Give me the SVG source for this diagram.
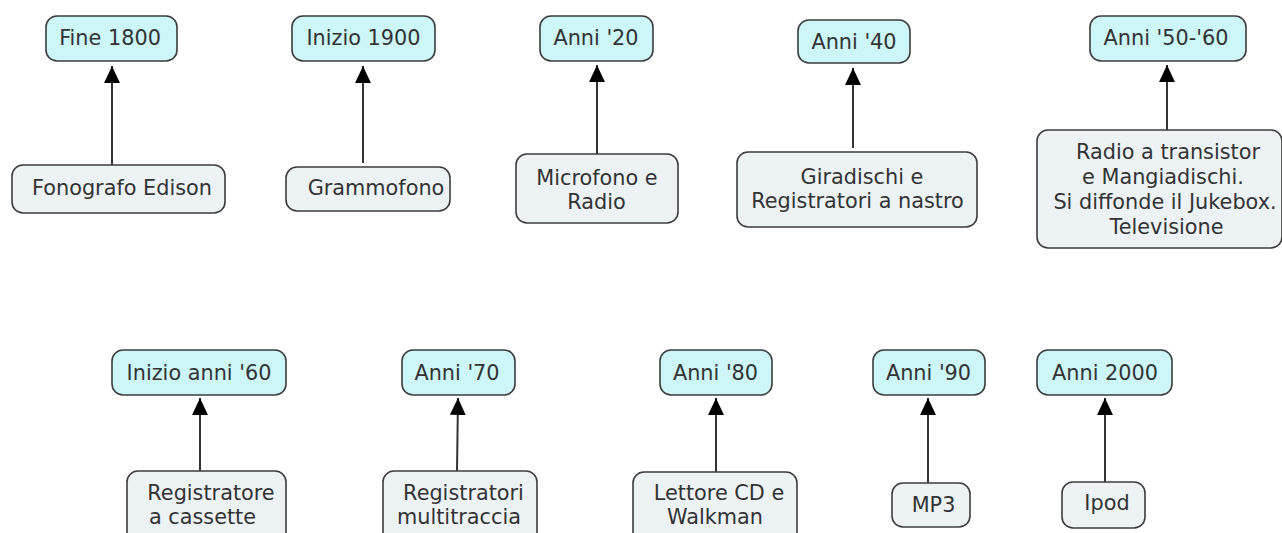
<svg xmlns="http://www.w3.org/2000/svg" width="1282" height="533" viewBox="0 0 1282 533">
<style>
.era rect{fill:#cdf6f8;stroke:#3c3c3c;stroke-width:1.6}
.dev rect{fill:#edf2f5;stroke:#3c3c3c;stroke-width:1.6}
text{font-family:"DejaVu Sans",Verdana,sans-serif;font-size:20.8px;fill:#333;text-anchor:middle}
.conn line{stroke:#333;stroke-width:2;fill:none;marker-end:url(#ah)}
</style>
<defs>
<marker id="ah" markerUnits="userSpaceOnUse" markerWidth="18" markerHeight="16" viewBox="0 0 17 15" refX="16" refY="7.5" orient="auto">
<path d="M16,7.5 L0,0 L0,15 Z" fill="#000"/>
</marker>
</defs>
<rect width="1282" height="533" fill="#fff"/>
<g class="conn">
<line x1="112" y1="165" x2="112" y2="66"/>
<line x1="363" y1="163" x2="363" y2="66"/>
<line x1="597" y1="154" x2="597" y2="65"/>
<line x1="853" y1="148" x2="853" y2="68"/>
<line x1="1167" y1="130" x2="1167" y2="65"/>
<line x1="200" y1="471" x2="200" y2="398"/>
<line x1="457" y1="471" x2="458" y2="398"/>
<line x1="716" y1="472" x2="716" y2="398"/>
<line x1="928" y1="483" x2="928" y2="398"/>
<line x1="1105" y1="482" x2="1105" y2="398"/>
</g>
<g id="n-fine1800" class="era"><rect x="46" y="16" width="131" height="45" rx="11"/><text x="110" y="45">Fine 1800</text></g>
<g id="n-inizio1900" class="era"><rect x="292" y="16" width="143" height="45" rx="11"/><text x="363.5" y="45">Inizio 1900</text></g>
<g id="n-anni20" class="era"><rect x="540" y="16" width="113" height="45" rx="11"/><text x="596" y="45">Anni '20</text></g>
<g id="n-anni40" class="era"><rect x="798" y="20" width="112" height="43" rx="11"/><text x="854" y="49">Anni '40</text></g>
<g id="n-anni5060" class="era"><rect x="1090" y="16" width="156" height="45" rx="11"/><text x="1166" y="45">Anni '50-'60</text></g>
<g id="n-fonografo" class="dev"><rect x="12" y="165" width="213" height="48" rx="11"/><text x="122" y="195">Fonografo Edison</text></g>
<g id="n-grammofono" class="dev"><rect x="286" y="167" width="164" height="44" rx="11"/><text x="376" y="195">Grammofono</text></g>
<g id="n-microfono" class="dev"><rect x="516" y="154" width="162" height="69" rx="11"/><text x="597" y="185">Microfono e</text><text x="596.5" y="209">Radio</text></g>
<g id="n-giradischi" class="dev"><rect x="737" y="152" width="240" height="75" rx="11"/><text x="862" y="184">Giradischi e</text><text x="857.5" y="208">Registratori a nastro</text></g>
<g id="n-radio" class="dev"><rect x="1037" y="130" width="245" height="118" rx="11"/><text x="1168" y="159">Radio a transistor</text><text x="1163" y="184">e Mangiadischi.</text><text x="1165" y="209">Si diffonde il Jukebox.</text><text x="1166.5" y="234">Televisione</text></g>
<g id="n-inizio60" class="era"><rect x="112" y="350" width="174" height="45" rx="11"/><text x="199" y="380">Inizio anni '60</text></g>
<g id="n-anni70" class="era"><rect x="402" y="350" width="113" height="45" rx="11"/><text x="457" y="380">Anni '70</text></g>
<g id="n-anni80" class="era"><rect x="660" y="350" width="112" height="45" rx="11"/><text x="715.5" y="380">Anni '80</text></g>
<g id="n-anni90" class="era"><rect x="873" y="350" width="112" height="45" rx="11"/><text x="928.5" y="380">Anni '90</text></g>
<g id="n-anni2000" class="era"><rect x="1037" y="350" width="135" height="45" rx="11"/><text x="1105" y="380">Anni 2000</text></g>
<g id="n-registratore" class="dev"><rect x="127" y="471" width="159" height="75" rx="11"/><text x="211" y="500">Registratore</text><text x="202.5" y="524">a cassette</text></g>
<g id="n-multitraccia" class="dev"><rect x="383" y="471" width="154" height="75" rx="11"/><text x="463.5" y="500">Registratori</text><text x="459" y="524">multitraccia</text></g>
<g id="n-lettorecd" class="dev"><rect x="633" y="472" width="164" height="75" rx="11"/><text x="719" y="500">Lettore CD e</text><text x="715" y="524">Walkman</text></g>
<g id="n-mp3" class="dev"><rect x="892" y="483" width="78" height="44" rx="11"/><text x="933.5" y="512">MP3</text></g>
<g id="n-ipod" class="dev"><rect x="1062" y="482" width="83" height="46" rx="11"/><text x="1107" y="510">Ipod</text></g>
</svg>
